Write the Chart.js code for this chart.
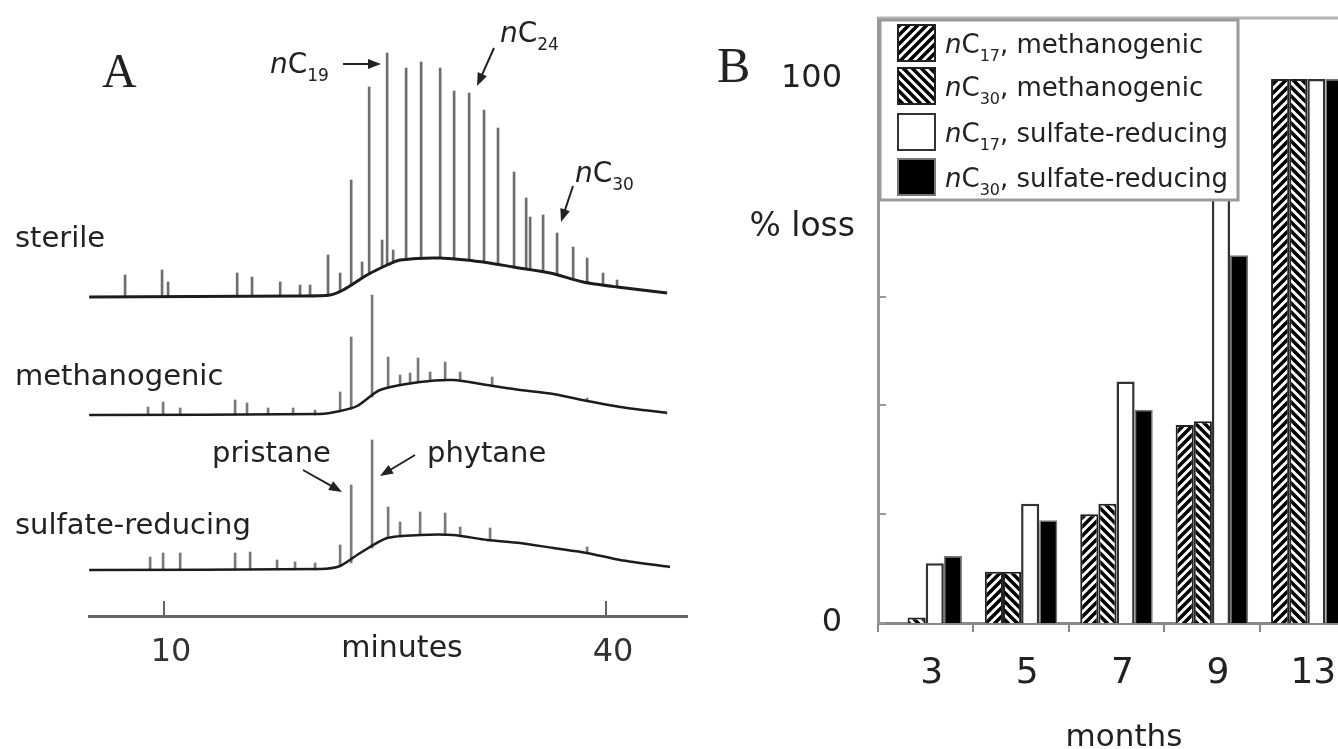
<!DOCTYPE html>
<html>
<head>
<meta charset="utf-8">
<script src="https://cdn.jsdelivr.net/npm/chart.js@4.4.1/dist/chart.umd.min.js"></script>
<style>
  html, body { margin: 0; padding: 0; background: #fff; overflow: hidden; }
  #wrap { position: relative; width: 1338px; height: 749px; overflow: hidden; }
  #chartA { position: absolute; left: 0; top: 0; }
  #chartB { position: absolute; left: 700px; top: 0; }
</style>
</head>
<body>
<div id="wrap">
  <canvas id="chartA" width="700" height="749"></canvas>
  <canvas id="chartB" width="680" height="749"></canvas>
</div>
<script>
// ---- Panel A: chromatograms (retention time in minutes, response in arbitrary units) ----
const minuteTicks = [10, 40];

const sterileBaseTime = [4.91, 19.23, 21.27, 22.15, 23.78, 25.14, 26.02, 28.74, 31.66, 33.69, 36.2, 38.45, 40.75, 44.15];
const sterileBaseResp = [63.8, 64.0, 64.2, 65.2, 68.2, 70.2, 71.2, 71.6, 70.8, 69.8, 68.6, 66.8, 65.8, 64.6];
const sterilePeakTime = [7.35, 9.86, 10.27, 14.96, 15.97, 17.88, 19.23, 19.91, 21.13, 21.95, 22.70, 23.44, 23.92, 24.80, 25.14, 25.55,
  26.43, 27.45, 28.74, 29.69, 30.71, 31.72, 32.67, 33.76, 34.58, 34.85, 35.73, 36.68, 37.77, 38.72, 39.80, 40.75];
const sterilePeakTop = [68.2, 69.2, 66.8, 68.6, 67.8, 66.8, 66.2, 66.2, 72.2, 68.6, 87.2, 70.8, 105.8, 75.2, 112.6, 73.2,
  109.6, 110.8, 109.6, 105.0, 104.6, 101.2, 97.6, 88.8, 83.6, 79.8, 80.2, 76.6, 73.8, 71.6, 68.6, 67.2];
const sterilePeakFoot = [64.0, 64.0, 64.0, 64.0, 64.0, 64.0, 64.0, 64.0, 64.2, 65.0, 66.4, 67.6, 68.4, 69.8, 70.2, 70.6,
  71.2, 71.4, 71.6, 71.4, 71.0, 70.8, 70.2, 69.8, 69.4, 69.2, 69.0, 68.2, 67.4, 66.8, 66.2, 65.8];

const methBaseTime = [4.91, 20.59, 21.95, 23.10, 24.66, 27.38, 29.62, 31.93, 34.17, 36.41, 38.72, 40.96, 44.15];
const methBaseResp = [40.2, 40.4, 41.0, 42.0, 45.2, 46.8, 47.2, 46.2, 45.2, 44.4, 43.0, 41.8, 40.6];
const methPeakTime = [8.91, 9.93, 11.09, 14.82, 15.63, 17.06, 18.76, 20.25, 21.95, 22.70, 24.12, 25.21, 26.02, 26.70, 27.24, 28.06, 29.08, 30.10, 32.27, 38.72];
const methPeakTop = [41.8, 42.8, 41.6, 43.2, 42.6, 41.6, 41.6, 41.2, 44.8, 55.8, 64.2, 51.8, 48.2, 48.6, 51.6, 48.8, 50.8, 48.8, 47.8, 43.6];
const methPeakFoot = [40.2, 40.2, 40.2, 40.2, 40.2, 40.2, 40.2, 40.2, 41.0, 41.4, 43.8, 45.6, 46.2, 46.6, 46.8, 47.0, 47.2, 47.0, 46.2, 43.0];

const sulfBaseTime = [4.91, 20.59, 21.95, 23.31, 25.14, 27.38, 29.62, 31.93, 34.17, 36.41, 38.72, 40.96, 44.35];
const sulfBaseResp = [9.2, 9.4, 10.0, 12.6, 15.6, 16.2, 16.2, 15.2, 14.6, 13.6, 12.6, 11.2, 9.8];
const sulfPeakTime = [9.05, 9.93, 11.09, 14.82, 15.84, 17.67, 18.89, 20.25, 21.95, 22.70, 24.12, 25.21, 26.02, 27.38, 29.08, 30.10, 32.13, 38.72];
const sulfPeakTop = [11.8, 12.6, 12.6, 12.6, 12.8, 11.2, 10.8, 10.6, 14.2, 26.2, 35.2, 21.8, 18.8, 20.8, 20.6, 17.8, 17.6, 13.8];
const sulfPeakFoot = [9.2, 9.2, 9.2, 9.2, 9.2, 9.2, 9.2, 9.2, 10.0, 10.6, 13.6, 15.6, 15.8, 16.2, 16.2, 16.0, 15.2, 12.6];

// ---- Panel B: % loss by month ----
const months = ['3', '5', '7', '9', '13'];
const methC17 = [0, 9.4, 20.0, 36.4, 100];
const methC30 = [1.0, 9.4, 21.9, 37.1, 100];
const sulfC17 = [11.0, 21.9, 44.4, 80, 100];
const sulfC30 = [12.3, 18.9, 39.2, 67.6, 100];
const lossTicks = [0, 20, 40, 60, 80, 100];

const FONT = '"DejaVu Sans"';
Chart.defaults.font.family = FONT;

const toPoints = (ts, vs) => ts.map((t, i) => ({ x: t, y: vs[i] }));
const toSpikes = (ts, feet, tops) => ts.map((t, i) => ({ x: t, y: [feet[i], tops[i]] }));

function arrow(ctx, x1, y1, x2, y2) {
  const a = Math.atan2(y2 - y1, x2 - x1), L = 13, W = 5;
  ctx.beginPath(); ctx.moveTo(x1, y1); ctx.lineTo(x2 - L * 0.6 * Math.cos(a), y2 - L * 0.6 * Math.sin(a)); ctx.stroke();
  ctx.beginPath();
  ctx.moveTo(x2, y2);
  ctx.lineTo(x2 - L * Math.cos(a) + W * Math.sin(a), y2 - L * Math.sin(a) - W * Math.cos(a));
  ctx.lineTo(x2 - L * Math.cos(a) - W * Math.sin(a), y2 - L * Math.sin(a) + W * Math.cos(a));
  ctx.closePath(); ctx.fill();
}

function nC(ctx, x, y, sub, size, rest) {
  ctx.font = `italic ${size}px ${FONT}`;
  ctx.fillText('n', x, y); x += ctx.measureText('n').width;
  ctx.font = `${size}px ${FONT}`;
  ctx.fillText('C', x, y); x += ctx.measureText('C').width;
  ctx.font = `${Math.round(size * 0.62)}px ${FONT}`;
  ctx.fillText(sub, x, y + size * 0.3); x += ctx.measureText(sub).width;
  if (rest) { ctx.font = `${size}px ${FONT}`; ctx.fillText(rest, x, y); }
}

const panelAExtras = {
  id: 'panelAExtras',
  afterDraw(chart) {
    const { ctx, chartArea } = chart;
    const x = chart.scales.x;
    ctx.save();
    ctx.strokeStyle = '#666'; ctx.lineWidth = 2;
    minuteTicks.forEach(v => {
      const px = Math.round(x.getPixelForValue(v));
      ctx.beginPath(); ctx.moveTo(px, chartArea.bottom); ctx.lineTo(px, chartArea.bottom - 15); ctx.stroke();
    });
    ctx.fillStyle = '#222'; ctx.textBaseline = 'alphabetic';
    ctx.font = `29px ${FONT}`;
    ctx.fillText('sterile', 15, 247);
    ctx.fillText('methanogenic', 15, 385);
    ctx.fillText('sulfate-reducing', 15, 534);
    ctx.fillText('pristane', 212, 462);
    ctx.fillText('phytane', 427, 462);
    ctx.font = `30px ${FONT}`;
    ctx.textAlign = 'center';
    ctx.fillText('minutes', 402, 657);
    ctx.textAlign = 'left';
    ctx.font = `48px "Liberation Serif"`;
    ctx.fillText('A', 102, 87);
    nC(ctx, 270, 73, '19', 28);
    nC(ctx, 500, 42, '24', 28);
    nC(ctx, 575, 182, '30', 28);
    ctx.strokeStyle = '#222'; ctx.lineWidth = 2;
    arrow(ctx, 343, 64, 381, 64);
    arrow(ctx, 494, 48, 477, 86);
    arrow(ctx, 573, 186, 561, 222);
    arrow(ctx, 303, 470, 342, 492);
    arrow(ctx, 415, 455, 380, 476);
    ctx.restore();
  }
};

const spike = (ts, feet, tops, color) => ({
  type: 'bar', data: toSpikes(ts, feet, tops), backgroundColor: color,
  barThickness: 2, grouped: false, borderWidth: 0, order: 1
});
const base = (ts, vs, w) => ({
  type: 'line', data: toPoints(ts, vs), borderColor: '#1c1c1c', borderWidth: w,
  pointRadius: 0, tension: 0.25, order: 0
});

new Chart(document.getElementById('chartA'), {
  type: 'line',
  data: {
    datasets: [
      spike(sterilePeakTime, sterilePeakFoot, sterilePeakTop, '#6e6e6e'),
      base(sterileBaseTime, sterileBaseResp, 3),
      spike(methPeakTime, methPeakFoot, methPeakTop, '#7a7a7a'),
      base(methBaseTime, methBaseResp, 2.5),
      spike(sulfPeakTime, sulfPeakFoot, sulfPeakTop, '#7a7a7a'),
      base(sulfBaseTime, sulfBaseResp, 2.5)
    ]
  },
  options: {
    responsive: false, animation: false,
    layout: { padding: { left: 89, right: 13, top: 41, bottom: 0 } },
    plugins: { legend: { display: false }, tooltip: { enabled: false } },
    scales: {
      x: {
        type: 'linear', min: 4.9, max: 45.5, offset: false,
        grid: { display: false },
        border: { display: true, color: '#666', width: 3 },
        afterBuildTicks: s => { s.ticks = minuteTicks.map(v => ({ value: v })); },
        ticks: { font: { size: 32 }, color: '#333', padding: 9, labelOffset: 7, maxRotation: 0 },
        afterFit: s => { s.height = 749 - 616; }
      },
      y: { display: false, min: 0, max: 115 }
    }
  },
  plugins: [panelAExtras]
});

// ---- Panel B ----
const ctxB = document.getElementById('chartB').getContext('2d');
function hatch(dir) {
  const s = 9;
  const c = document.createElement('canvas'); c.width = s; c.height = s;
  const g = c.getContext('2d');
  g.fillStyle = '#fff'; g.fillRect(0, 0, s, s);
  g.strokeStyle = '#000'; g.lineWidth = 3.5;
  g.beginPath();
  if (dir > 0) {
    for (const k of [0, s, 2 * s]) { g.moveTo(k + 2, -2); g.lineTo(k - s - 2, s + 2); }
  } else {
    for (const k of [-s, 0, s]) { g.moveTo(-2, k - 2); g.lineTo(s + 2, s + k + 2); }
  }
  g.stroke();
  return ctxB.createPattern(c, 'repeat');
}
const hatchUp = hatch(1), hatchDown = hatch(-1);

const seriesB = [
  { sub: '17', rest: ', methanogenic', data: methC17, fill: hatchUp, border: '#222', bw: 2 },
  { sub: '30', rest: ', methanogenic', data: methC30, fill: hatchDown, border: '#222', bw: 2 },
  { sub: '17', rest: ', sulfate-reducing', data: sulfC17, fill: '#ffffff', border: '#333', bw: 2.5 },
  { sub: '30', rest: ', sulfate-reducing', data: sulfC30, fill: '#000000', border: '#777', bw: 1.5 }
];

const panelBExtras = {
  id: 'panelBExtras',
  afterDraw(chart) {
    const { ctx, chartArea } = chart;
    const y = chart.scales.y;
    ctx.save();
    // frame top
    ctx.strokeStyle = '#b5b5b5'; ctx.lineWidth = 3;
    ctx.beginPath(); ctx.moveTo(chartArea.left, chartArea.top); ctx.lineTo(chartArea.right, chartArea.top); ctx.stroke();
    // inner y ticks
    ctx.strokeStyle = '#999'; ctx.lineWidth = 2;
    lossTicks.forEach(v => {
      const py = Math.round(y.getPixelForValue(v));
      ctx.beginPath(); ctx.moveTo(chartArea.left, py); ctx.lineTo(chartArea.left + 8, py); ctx.stroke();
    });
    // legend
    const lx = 180, ly = 20, lw = 358, lh = 180;
    ctx.fillStyle = '#fff'; ctx.fillRect(lx, ly, lw, lh);
    ctx.strokeStyle = '#999'; ctx.lineWidth = 3; ctx.strokeRect(lx, ly, lw, lh);
    const rows = [43, 86, 132, 177];
    seriesB.forEach((s, i) => {
      const cy = rows[i];
      ctx.fillStyle = s.fill; ctx.fillRect(198, cy - 18, 37, 36);
      ctx.strokeStyle = s.border; ctx.lineWidth = 2; ctx.strokeRect(198, cy - 18, 37, 36);
      ctx.fillStyle = '#222';
      nC(ctx, 245, cy + 10, s.sub, 26, s.rest);
    });
    ctx.fillStyle = '#222';
    ctx.font = `50px "Liberation Serif"`;
    ctx.fillText('B', 17, 82);
    ctx.font = `33px ${FONT}`;
    ctx.textAlign = 'right';
    ctx.fillText('% loss', 155, 236);
    ctx.textAlign = 'center';
    ctx.font = `31px ${FONT}`;
    ctx.fillText('months', 424, 746);
    ctx.restore();
  }
};

new Chart(ctxB, {
  type: 'bar',
  data: {
    labels: months,
    datasets: seriesB.map(s => ({
      label: 'nC' + s.sub + s.rest, data: s.data, backgroundColor: s.fill,
      borderColor: s.border, borderWidth: s.bw
    }))
  },
  options: {
    responsive: false, animation: false,
    datasets: { bar: { categoryPercentage: 0.76, barPercentage: 1 } },
    layout: { padding: { left: 0, right: 25, top: 18, bottom: 0 } },
    plugins: { legend: { display: false }, tooltip: { enabled: false } },
    scales: {
      x: {
        grid: { display: true, drawOnChartArea: false, drawTicks: true, tickLength: 9, color: '#888', lineWidth: 2, offset: true },
        border: { display: true, color: '#888', width: 3 },
        ticks: { font: { size: 36 }, color: '#222', padding: 20, labelOffset: 6, maxRotation: 0 },
        afterFit: s => { s.height = 749 - 623; s.paddingLeft = 0; s.paddingRight = 0; }
      },
      y: {
        min: 0, max: 111.2,
        grid: { display: false },
        border: { display: true, color: '#999', width: 3 },
        ticks: { stepSize: 20, autoSkip: false, font: { size: 32 }, color: '#222', padding: 28,
          callback: v => (v === 0 || v === 100) ? String(v) : '' },
        afterFit: s => { s.width = 178; s.paddingTop = 0; s.paddingBottom = 0; }
      }
    }
  },
  plugins: [panelBExtras]
});
</script>
</body>
</html>
